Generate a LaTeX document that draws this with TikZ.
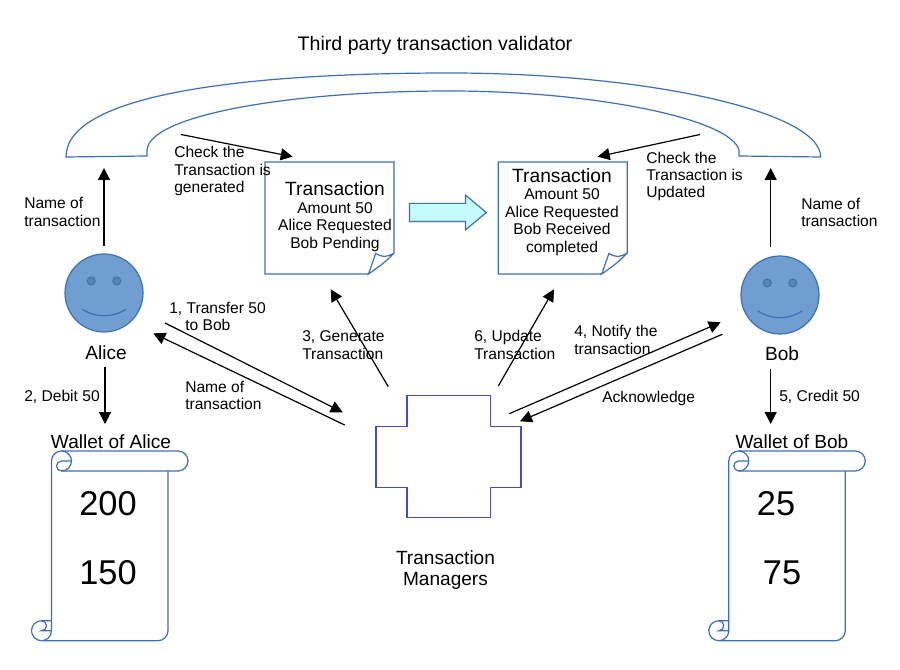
\documentclass[tikz,border=0pt]{standalone}
\usepackage{fontspec}
\setmainfont{Liberation Sans}
\usetikzlibrary{arrows.meta, shapes.arrows}
\definecolor{blueColor}{RGB}{61,111,181}
\definecolor{crossColor}{RGB}{72,72,208}
\definecolor{faceColor}{RGB}{113,158,208}
\definecolor{eyeColor}{RGB}{92,132,178}
\definecolor{pushColor}{RGB}{197,251,255}

\begin{document}
\begin{tikzpicture}[
    x=0.75pt, y=-0.75pt,
    note/.style={
        inner sep=0pt,
        anchor=west,
        align=left,
        font=\fontsize{11.7}{13}\selectfont
    },
    heading/.style={
        inner sep=0pt,
        align=center,
        font=\fontsize{14.3}{15.8}\selectfont
    },
    amount/.style={
        inner sep=0pt,
        font=\fontsize{25.8}{28}\selectfont
    },
    doctext/.style={
        inner sep=0pt,
        align=center,
        font=\fontsize{11.7}{13.2}\selectfont
    },
    docbox/.style={
        rectangle,
        inner sep=0pt,
        minimum width=96.75pt,
        minimum height=84pt
    },
    face/.style={
        circle,
        draw=blueColor,
        fill=faceColor,
        line width=0.9pt,
        inner sep=0pt,
        minimum size=58.5pt
    },
    eye/.style={
        draw=blueColor,
        fill=eyeColor,
        line width=0.7pt
    },
    blueline/.style={
        draw=blueColor,
        line width=0.9pt
    },
    flecha/.style={
        -{Triangle[length=9pt,width=9pt]},
        line width=0.9pt
    },
    scrollpic/.pic={
        \draw[blueline] (61.5,451) -- (178,451) arc (-90:90:10) -- (61.5,471) arc (90:270:5) -- (71.5,461);
        \draw[blueline] (61.5,471) arc (90:-90:10) arc (-90:-180:10) -- (51.5,630.7) arc (0:90:10) -- (158,640.7) arc (90:0:10) -- (168,471);
        \draw[blueline] (41.5,640.7) arc (90:270:10) -- (51.5,620.7);
        \draw[blueline] (41.5,620.7) arc (-90:90:5) -- (51.5,630.7);
    },
    foldpic/.pic={
        \draw[blueline] (368.5,274) -- (265,274) -- (265,162) -- (394,162) -- (394,253)
            .. controls (386,258) and (382,257) .. (375.7,253.5) -- (368.5,274)
            .. controls (377,268) and (386,262) .. (394,253);
    }
]
    \useasboundingbox (0,0) rectangle (900,670);

    % validator arch
    \node[heading, font=\fontsize{14.7}{16}\selectfont] (validator) at (435,45.5) {Third party transaction validator};
    \draw[blueline] (66,157) .. controls (66,95) and (240,73) .. (450,73)
        .. controls (640,73) and (820,110) .. (820.7,157)
        -- (739,156) -- (739,150)
        .. controls (730,118) and (590,91) .. (450,91)
        .. controls (290,91) and (150,115) .. (147,150)
        -- (147,156) -- cycle;
    \coordinate (archAlice) at (104,168);
    \coordinate (archBob) at (770.7,168);
    \coordinate (archGen) at (181,134.5);
    \coordinate (archUpd) at (700,134.5);

    % alice and bob
    \node[face] (alice) at (104,293) {};
    \fill[eye] (91.3,281) circle (4);
    \fill[eye] (116.7,281) circle (4);
    \draw[blueline] (82.3,309.3) .. controls (96,318) and (112,318) .. (126,309.3);
    \node[heading] (aliceName) at (106,353) {Alice};

    \node[face] (bob) at (780,295) {};
    \fill[eye] (767.3,283) circle (4);
    \fill[eye] (792.7,283) circle (4);
    \draw[blueline] (758,311) .. controls (772,320) and (788,320) .. (802,311);
    \node[heading] (bobName) at (782,354) {Bob};

    % documents
    \node[docbox] (docGen) at (329.5,218) {};
    \node[docbox] (docUpd) at (562.7,218) {};
    \pic at (0,0) {foldpic};
    \pic at (233.2,0) {foldpic};
    \node[doctext] (docGenText) at (335,216.5) {{\fontsize{14.4}{16}\selectfont Transaction}\\Amount 50\\Alice Requested\\Bob Pending};
    \node[doctext] (docUpdText) at (562,212) {{\fontsize{14.4}{16}\selectfont Transaction}\\Amount 50\\Alice Requested\\Bob Received\\completed};
    \node[single arrow, draw=blueColor, fill=pushColor, line width=0.9pt, inner sep=0pt,
        minimum width=25pt, minimum height=57.5pt, single arrow head extend=6.2pt,
        single arrow tip angle=80, single arrow head indent=0pt] (push) at (442.5,212.5) {\rule{0pt}{12.75pt}};

    % managers
    \node[inner sep=0pt, minimum width=108.75pt, minimum height=91.5pt] (managers) at (448.5,456.7) {};
    \draw[crossColor, line width=0.9pt] (407,395.7) -- (490.3,395.7) -- (490.3,426.3) -- (521,426.3)
        -- (521,487.3) -- (490.3,487.3) -- (490.3,517.7) -- (407,517.7) -- (407,487.3)
        -- (376,487.3) -- (376,426.3) -- (407,426.3) -- cycle;
    \node[heading] (managersName) at (445.5,570) {Transaction\\Managers};

    % wallets
    \pic at (0,0) {scrollpic};
    \pic at (677.3,0) {scrollpic};
    \node[heading] (walletAlice) at (111,442) {Wallet of Alice};
    \node[heading] (walletBob) at (792,442) {Wallet of Bob};
    \node[amount] (aliceOld) at (108,504) {200};
    \node[amount] (aliceNew) at (108,573) {150};
    \node[amount] (bobOld) at (776,504) {25};
    \node[amount] (bobNew) at (782,573) {75};

    % connector ends
    \coordinate (aliceUp) at (104,246);
    \coordinate (bobUp) at (770.7,247);
    \coordinate (aliceDown) at (105,367);
    \coordinate (aliceDebit) at (105,424);
    \coordinate (bobDown) at (770.7,369);
    \coordinate (bobCredit) at (770.7,424);
    \coordinate (docGenTop) at (292.7,156.7);
    \coordinate (docUpdTop) at (597.7,156.7);
    \coordinate (docGenBottom) at (330.7,289.3);
    \coordinate (docUpdBottom) at (554,289.3);
    \coordinate (aliceOut) at (165,323);
    \coordinate (aliceIn) at (153.3,333.3);
    \coordinate (bobIn) at (720.7,322.3);
    \coordinate (bobOut) at (722.3,334.3);
    \coordinate (mgrFromAlice) at (342.7,412.3);
    \coordinate (mgrToAlice) at (344.7,425);
    \coordinate (mgrGen) at (388.3,386.7);
    \coordinate (mgrUpd) at (498.3,386);
    \coordinate (mgrToBob) at (509.3,413.7);
    \coordinate (mgrFromBob) at (520,421.3);

    \draw[flecha] (aliceUp) -- (archAlice);
    \draw[flecha] (bobUp) -- (archBob);
    \draw[flecha] (aliceDown) -- (aliceDebit);
    \draw[flecha] (bobDown) -- (bobCredit);
    \draw[flecha] (archGen) -- (docGenTop);
    \draw[flecha] (archUpd) -- (docUpdTop);
    \draw[flecha] (mgrGen) -- (docGenBottom);
    \draw[flecha] (mgrUpd) -- (docUpdBottom);
    \draw[flecha] (aliceOut) -- (mgrFromAlice);
    \draw[flecha] (mgrToAlice) -- (aliceIn);
    \draw[flecha] (mgrToBob) -- (bobIn);
    \draw[flecha] (bobOut) -- (mgrFromBob);

    % labels
    \node[note] (checkGen) at (174,171) {Check the\\Transaction is\\generated};
    \node[note] (checkUpd) at (646,176.5) {Check the\\Transaction is\\Updated};
    \node[note] (nameAlice) at (24,212) {Name of\\transaction};
    \node[note] (nameBob) at (801,212.5) {Name of\\transaction};
    \node[note] (transfer) at (169,316.5) {1, Transfer 50\\\hspace*{12pt}to Bob};
    \node[note] (nameBack) at (185,395.5) {Name of\\transaction};
    \node[note] (generate) at (302,345) {3, Generate\\Transaction};
    \node[note] (update) at (474,345) {6, Update\\Transaction};
    \node[note] (notify) at (574,340) {4, Notify the\\transaction};
    \node[note] (acknowledge) at (602,398) {Acknowledge};
    \node[note] (debit) at (24,397) {2, Debit 50};
    \node[note] (credit) at (779,397) {5, Credit 50};
\end{tikzpicture}
\end{document}
